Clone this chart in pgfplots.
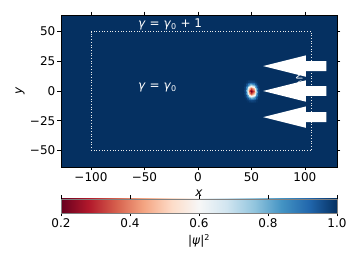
\documentclass[border=0pt]{standalone}
\usepackage{fontspec}
\setmainfont{DejaVu Sans}
\usepackage{pgfplots}
\pgfplotsset{compat=1.18}
\definecolor{bg}{RGB}{5,48,97}
\pgfplotstableread{
x y c
42 -10 1.00
44 -10 1.00
46 -10 1.00
48 -10 1.00
50 -10 1.00
52 -10 1.00
54 -10 1.00
56 -10 1.00
58 -10 1.00
42 -7.5 1.00
44 -7.5 1.00
46 -7.5 0.99
48 -7.5 0.97
50 -7.5 0.96
52 -7.5 0.97
54 -7.5 0.99
56 -7.5 1.00
58 -7.5 1.00
42 -5 1.00
44 -5 0.99
46 -5 0.93
48 -5 0.80
50 -5 0.72
52 -5 0.80
54 -5 0.93
56 -5 0.99
58 -5 1.00
42 -2.5 1.00
44 -2.5 0.97
46 -2.5 0.80
48 -2.5 0.50
50 -2.5 0.36
52 -2.5 0.50
54 -2.5 0.80
56 -2.5 0.97
58 -2.5 1.00
42 0 1.00
44 0 0.96
46 0 0.72
48 0 0.36
50 0 0.20
52 0 0.36
54 0 0.72
56 0 0.96
58 0 1.00
42 2.5 1.00
44 2.5 0.97
46 2.5 0.80
48 2.5 0.50
50 2.5 0.36
52 2.5 0.50
54 2.5 0.80
56 2.5 0.97
58 2.5 1.00
42 5 1.00
44 5 0.99
46 5 0.93
48 5 0.80
50 5 0.72
52 5 0.80
54 5 0.93
56 5 0.99
58 5 1.00
42 7.5 1.00
44 7.5 1.00
46 7.5 0.99
48 7.5 0.97
50 7.5 0.96
52 7.5 0.97
54 7.5 0.99
56 7.5 1.00
58 7.5 1.00
42 10 1.00
44 10 1.00
46 10 1.00
48 10 1.00
50 10 1.00
52 10 1.00
54 10 1.00
56 10 1.00
58 10 1.00
}\spot
\begin{document}
\fontsize{12}{14}\selectfont
\begin{tikzpicture}
\useasboundingbox (-61pt,-100pt) rectangle (296pt,167pt);
\begin{axis}[at={(0,0)}, anchor=south west, scale only axis,
 width=276pt, height=152pt,
 xmin=-128, xmax=130, ymin=-64, ymax=64,
 axis on top,
 axis background/.style={fill=bg},
 xtick={-100,-50,0,50,100}, xticklabels={−100,−50,0,50,100},
 ytick={-50,-25,0,25,50}, yticklabels={−50,−25,0,25,50},
 tick align=outside, major tick length=3.5pt,
 tick style={black, line width=0.6pt},
 axis line style={line width=0.6pt},
 xticklabel style={inner sep=2pt}, yticklabel style={inner sep=2pt},
 xlabel={\textit{x}}, ylabel={\textit{y}},
 xlabel style={at={(axis description cs:0.5,-0.175)}, anchor=center, inner sep=0pt},
 ylabel style={at={(axis description cs:-0.1486,0.5)}, anchor=center, inner sep=0pt},
 colormap={RdBu}{rgb255=(103,0,31) rgb255=(178,24,43) rgb255=(214,96,77) rgb255=(244,165,130) rgb255=(253,219,199) rgb255=(247,247,247) rgb255=(209,229,240) rgb255=(146,197,222) rgb255=(67,147,195) rgb255=(33,102,172) rgb255=(5,48,97)},
 point meta min=0.2, point meta max=1.0,
 colorbar horizontal,
 colorbar style={at={(0,-0.2105)}, anchor=north west, scale only axis,
   width=276pt, height=14pt,
   xtick={0.2,0.4,0.6,0.8,1.0}, xticklabels={0.2,0.4,0.6,0.8,1.0},
   tick align=outside, major tick length=3.5pt,
   xticklabel style={inner sep=2pt},
   axis line style={gray, line width=0.6pt},
   xlabel={|\textit{ψ}|\textsuperscript{2}},
   xlabel style={at={(axis description cs:0.5,-2.0)}, anchor=center, inner sep=0pt}},
]
\addplot[surf, shader=interp, mesh/cols=9, point meta=explicit] table[x=x, y=y, meta=c] {\spot};
\addplot[white!85!gray, dotted, line width=0.7pt] coordinates {(-100,-50) (106,-50) (106,50) (-100,50) (-100,-50)};
\node[white, anchor=west, inner sep=0pt] at (axis cs:-56,56) {\textit{γ} = \textit{γ}\textsubscript{0} + 1};
\node[white, anchor=west, inner sep=0pt] at (axis cs:-56,3) {\textit{γ} = \textit{γ}\textsubscript{0}};
\node[white, rotate=-60, inner sep=0pt, font=\fontsize{10}{12}\selectfont] at (axis cs:95,9) {\textit{v}\textsubscript{0}};
\addplot[fill=white, draw=none] coordinates {(61,21) (101,30) (101,25.2) (120,25.2) (120,16.8) (101,16.8) (101,12) (61,21)};
\addplot[fill=white, draw=none] coordinates {(61,0) (101,9) (101,4.2) (120,4.2) (120,-4.2) (101,-4.2) (101,-9) (61,0)};
\addplot[fill=white, draw=none] coordinates {(61,-22) (101,-13) (101,-17.8) (120,-17.8) (120,-26.2) (101,-26.2) (101,-31) (61,-22)};
\end{axis}
\end{tikzpicture}
\end{document}
